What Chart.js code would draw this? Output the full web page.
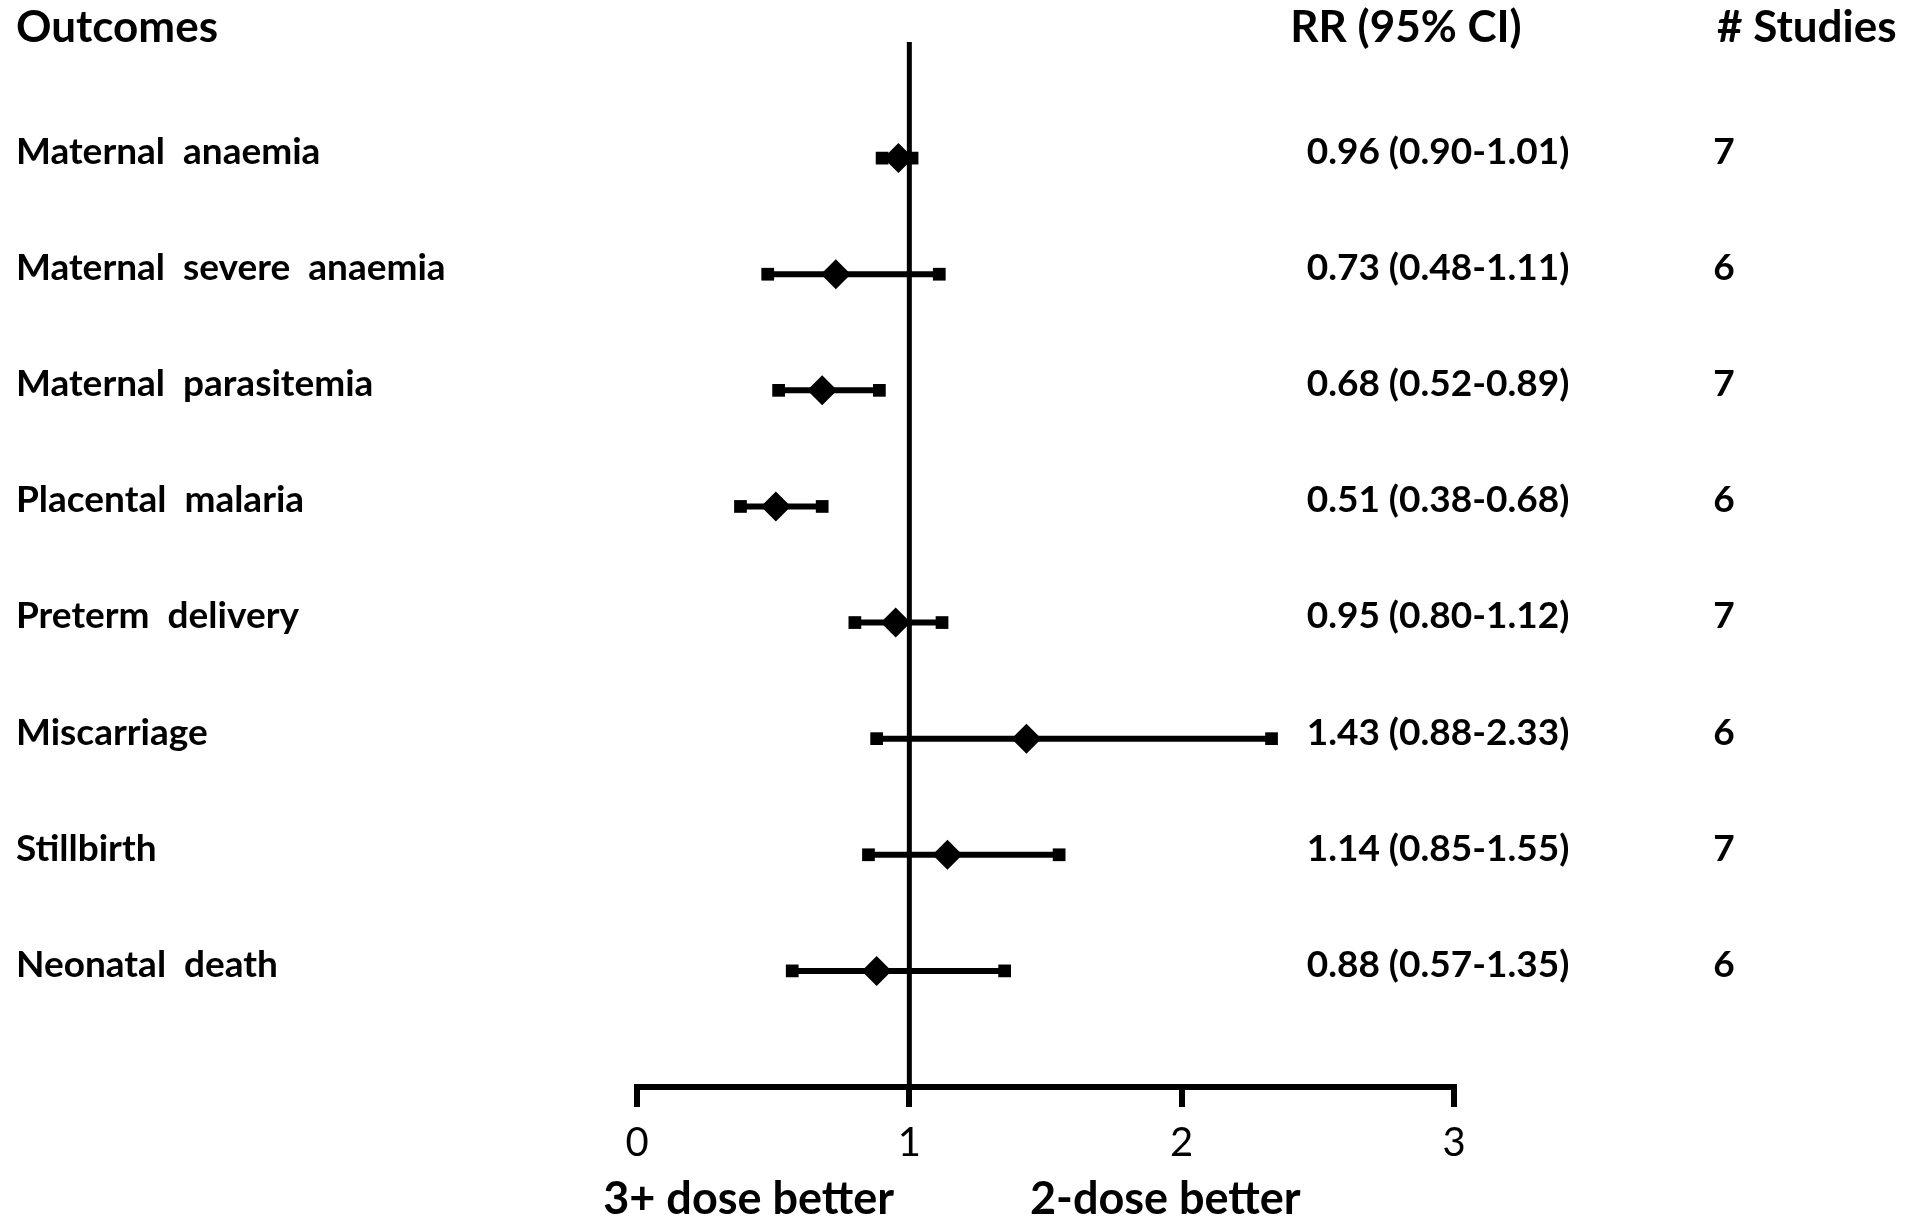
<!doctype html>
<html lang="en">
<head>
    <meta charset="utf-8">
    <title>Forest plot - IPTp 3+ dose vs 2-dose</title>
    <script src="https://cdn.jsdelivr.net/npm/chart.js"></script>
    <style>
        html, body { margin: 0; padding: 0; background: #fff; }
        #forest { display: block; }
    </style>
</head>
<body>
    <canvas id="forest" width="1905" height="1216"></canvas>
    <script>
        // values
        const outcomes = [
            'Maternal  anaemia',
            'Maternal  severe  anaemia',
            'Maternal  parasitemia',
            'Placental  malaria',
            'Preterm  delivery',
            'Miscarriage',
            'Stillbirth',
            'Neonatal  death'
        ];
        const rr = [0.96, 0.73, 0.68, 0.51, 0.95, 1.43, 1.14, 0.88];
        const ciLow = [0.90, 0.48, 0.52, 0.38, 0.80, 0.88, 0.85, 0.57];
        const ciHigh = [1.01, 1.11, 0.89, 0.68, 1.12, 2.33, 1.55, 1.35];
        const studies = [7, 6, 7, 6, 7, 6, 7, 6];
        const xTicks = [0, 1, 2, 3];
        const sideLabels = ['3+ dose better', '2-dose better'];

        const FONT = 'Lato';
        Chart.defaults.font.family = FONT;
        Chart.defaults.color = '#000';

        const rrText = rr.map((v, i) => `${v.toFixed(2)} (${ciLow[i].toFixed(2)}-${ciHigh[i].toFixed(2)})`);

        // text columns, headers and the two labels under the axis
        const tablePlugin = {
            id: 'tableText',
            afterDraw(chart) {
                const ctx = chart.ctx;
                const y = chart.scales.y;
                const x = chart.scales.x;
                ctx.save();
                ctx.fillStyle = '#000';
                ctx.textBaseline = 'middle';

                ctx.font = `bold 44px ${FONT}`;
                ctx.textAlign = 'left';
                ctx.fillText('Outcomes', 16, 28);
                ctx.textAlign = 'center';
                ctx.fillText('RR (95% CI)', 1406, 28);
                ctx.textAlign = 'left';
                ctx.fillText('# Studies', 1717, 28);

                ctx.font = `bold 37px ${FONT}`;
                rr.forEach((v, i) => {
                    const py = y.getPixelForValue(i + 1) - 6;
                    ctx.textAlign = 'center';
                    ctx.fillText(rrText[i], 1438, py);
                    ctx.fillText(String(studies[i]), 1724, py);
                });

                ctx.font = `bold 45px ${FONT}`;
                ctx.textAlign = 'center';
                ctx.fillText(sideLabels[0], x.getPixelForValue(0.41), 1199);
                ctx.fillText(sideLabels[1], x.getPixelForValue(1.94), 1199);
                ctx.restore();
            }
        };

        const datasets = [];
        // diamonds first so they sit on top
        datasets.push({
            data: rr.map((v, i) => ({ x: v, y: i + 1 })),
            pointStyle: 'rectRot',
            pointRadius: 15,
            pointHoverRadius: 15,
            backgroundColor: '#000',
            borderWidth: 0,
            showLine: false
        });
        // confidence intervals with square end caps
        rr.forEach((v, i) => {
            datasets.push({
                data: [{ x: ciLow[i], y: i + 1 }, { x: ciHigh[i], y: i + 1 }],
                showLine: true,
                borderColor: '#000',
                borderWidth: 6,
                pointStyle: 'rect',
                pointRadius: 9,
                pointHoverRadius: 9,
                pointBackgroundColor: '#000',
                pointBorderWidth: 0
            });
        });
        // line of no effect
        datasets.push({
            data: [{ x: 1, y: 0 }, { x: 1, y: outcomes.length + 1 }],
            showLine: true,
            borderColor: '#000',
            borderWidth: 5,
            pointRadius: 0
        });

        new Chart(document.getElementById('forest'), {
            type: 'scatter',
            data: { datasets },
            plugins: [tablePlugin],
            options: {
                responsive: false,
                animation: false,
                events: [],
                layout: { padding: { left: 16, top: 42, right: 451, bottom: 0 } },
                plugins: { legend: { display: false }, tooltip: { enabled: false } },
                scales: {
                    x: {
                        type: 'linear',
                        min: 0,
                        max: 3,
                        afterBuildTicks: (s) => { s.ticks = xTicks.map(v => ({ value: v })); },
                        afterFit: (s) => { s.height = 129; },
                        border: { display: true, color: '#000', width: 6 },
                        grid: {
                            drawOnChartArea: false,
                            drawTicks: true,
                            tickLength: 20,
                            lineWidth: 6,
                            color: '#000'
                        },
                        ticks: { font: { size: 40 }, padding: 12, color: '#000' }
                    },
                    y: {
                        type: 'linear',
                        reverse: true,
                        min: 0,
                        max: outcomes.length + 1,
                        afterBuildTicks: (s) => { s.ticks = outcomes.map((o, i) => ({ value: i + 1 })); },
                        afterFit: (s) => { s.width = 621; },
                        border: { display: false },
                        grid: { display: false },
                        ticks: {
                            callback: (v) => outcomes[v - 1],
                            crossAlign: 'far',
                            labelOffset: -6,
                            padding: 0,
                            font: { size: 37, weight: 'bold' },
                            color: '#000'
                        }
                    }
                }
            }
        });
    </script>
</body>
</html>
